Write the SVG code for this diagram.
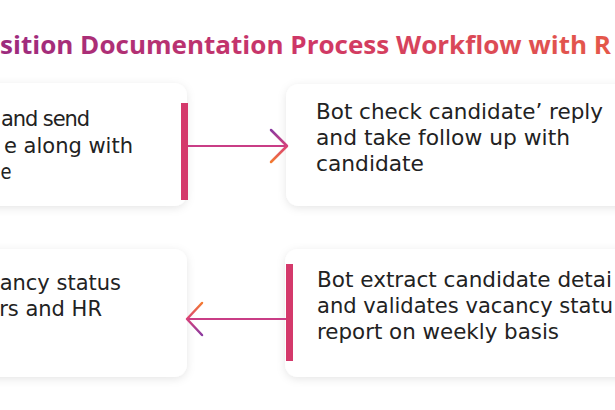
<svg xmlns="http://www.w3.org/2000/svg" width="615" height="410" viewBox="0 0 615 410">
  <defs>
    <linearGradient id="titleGrad" gradientUnits="userSpaceOnUse" x1="0" y1="0" x2="615" y2="0">
      <stop offset="0" stop-color="#9c2a7e"/>
      <stop offset="0.5" stop-color="#cf3766"/>
      <stop offset="1" stop-color="#e5584a"/>
    </linearGradient>
    <linearGradient id="chevDown" x1="0" y1="0" x2="0" y2="1">
      <stop offset="0" stop-color="#8b3aa0"/>
      <stop offset="0.5" stop-color="#d8407a"/>
      <stop offset="1" stop-color="#f37a30"/>
    </linearGradient>
    <linearGradient id="chevUp" x1="0" y1="0" x2="0" y2="1">
      <stop offset="0" stop-color="#f37a30"/>
      <stop offset="0.5" stop-color="#d8407a"/>
      <stop offset="1" stop-color="#8b3aa0"/>
    </linearGradient>
    <filter id="shadow" x="-20%" y="-20%" width="140%" height="140%">
      <feDropShadow dx="0" dy="2" stdDeviation="4" flood-color="#000" flood-opacity="0.10"/>
    </filter>
  </defs>
  <style>
    .box { fill: #ffffff; filter: url(#shadow); }
    .bar { fill: #d4396b; }
    .txt { font-family: "DejaVu Sans", "Liberation Sans", sans-serif; font-size: 21px; fill: #222222; }
    .title { font-family: "Open Sans", "DejaVu Sans", sans-serif; font-size: 25px; font-weight: 700; fill: url(#titleGrad); }
    .line { stroke: #c93d86; stroke-width: 2.2; fill: none; }
    .chev { stroke-width: 2.5; fill: none; stroke-linecap: round; stroke-linejoin: round; }
  </style>
  <rect width="615" height="410" fill="#ffffff"/>

  <text class="title" x="0" y="54" textLength="611" lengthAdjust="spacingAndGlyphs">sition Documentation Process Workflow with R</text>

  <g id="node-top-left">
    <rect class="box" x="-30" y="83" width="217" height="123" rx="13"/>
    <rect class="bar" x="181" y="103" width="7" height="97"/>
    <text class="txt" x="1" y="126" textLength="89" lengthAdjust="spacing">and send</text>
    <text class="txt" text-anchor="end" x="133" y="152.5">e along with</text>
    <text class="txt" x="0.5" y="179" textLength="11" lengthAdjust="spacingAndGlyphs">e</text>
  </g>

  <g id="node-top-right">
    <rect class="box" x="286" y="84" width="360" height="122" rx="13"/>
    <text class="txt" x="316" y="119" textLength="287" lengthAdjust="spacingAndGlyphs">Bot check candidate’ reply</text>
    <text class="txt" x="316" y="145" textLength="254" lengthAdjust="spacingAndGlyphs">and take follow up with</text>
    <text class="txt" x="316" y="171" textLength="108" lengthAdjust="spacingAndGlyphs">candidate</text>
  </g>

  <g id="node-bottom-left">
    <rect class="box" x="-30" y="249" width="217" height="128" rx="13"/>
    <text class="txt" text-anchor="end" x="121" y="290">ancy status</text>
    <text class="txt" text-anchor="end" x="102" y="316">rs and HR</text>
  </g>

  <g id="node-bottom-right">
    <rect class="box" x="285" y="249" width="360" height="128" rx="13"/>
    <rect class="bar" x="286" y="264" width="7" height="97"/>
    <text class="txt" x="317" y="287" textLength="295" lengthAdjust="spacingAndGlyphs">Bot extract candidate detai</text>
    <text class="txt" x="317" y="313" textLength="296" lengthAdjust="spacingAndGlyphs">and validates vacancy statu</text>
    <text class="txt" x="317" y="339" textLength="242" lengthAdjust="spacingAndGlyphs">report on weekly basis</text>
  </g>

  <g id="connectors">
    <line class="line" x1="188" y1="146" x2="286" y2="146"/>
    <path class="chev" stroke="url(#chevDown)" d="M271,130 L287,146 L271,162"/>
    <line class="line" x1="286" y1="319" x2="188" y2="319"/>
    <path class="chev" stroke="url(#chevUp)" d="M202,303 L187,319 L202,335"/>
  </g>
</svg>
